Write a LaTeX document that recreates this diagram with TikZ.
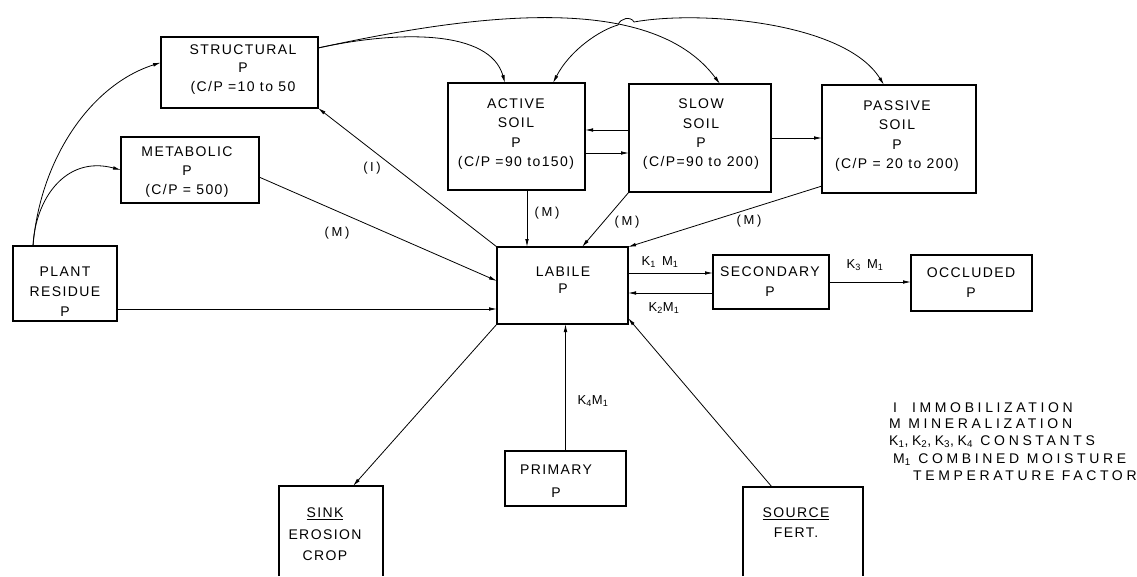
\documentclass[tikz,border=0pt]{standalone}
\usepackage{fontspec}
\setmainfont{Liberation Sans}
\newfontfamily\bxf[LetterSpace=10]{Liberation Sans}
\newfontfamily\lbf[LetterSpace=20]{Liberation Sans}
\newfontfamily\lgf[LetterSpace=26]{Liberation Sans}
\usetikzlibrary{arrows.meta}
\tikzset{
  bx/.style 2 args={draw, line width=1.1pt, inner sep=0pt, outer sep=0pt,
    minimum width=#1pt, minimum height=#2pt},
  obx/.style 2 args={inner sep=0pt, outer sep=0pt,
    minimum width=#1pt, minimum height=#2pt},
  txt/.style={font={\bxf\fontsize{14}{#1}\selectfont}, align=center, inner sep=0pt},
  lbl/.style={font={\lbf\fontsize{13}{15}\selectfont}, inner sep=0pt},
  lgd/.style={font={\lgf\fontsize{14}{17}\selectfont}, inner sep=0pt, anchor=base west},
  arr/.style={-{Latex[length=8pt,width=3.6pt]}, line width=0.8pt},
  dbl/.style={{Latex[length=8pt,width=3.6pt]}-{Latex[length=8pt,width=3.6pt]}, line width=0.8pt},
  openbox/.style={line width=1.1pt}
}
\begin{document}
\begin{tikzpicture}[x=1pt,y=-1pt]
\useasboundingbox[fill=white] (0,0) rectangle (1137,576);

% boxes
\node[bx={157}{71}]  (struct)  at (239.5,72.5) {};
\node[bx={138}{66}]  (metab)   at (190,170) {};
\node[bx={104}{75}]  (plant)   at (65,283.5) {};
\node[bx={137}{107}] (active)  at (516.5,136.5) {};
\node[bx={142}{108}] (slow)    at (700,138) {};
\node[bx={154}{108}] (passive) at (899,139) {};
\node[bx={131}{77}]  (labile)  at (562.5,285.5) {};
\node[bx={116}{54}]  (second)  at (771,282) {};
\node[bx={121}{56}]  (occl)    at (971.5,283) {};
\node[bx={121}{55}]  (primary) at (565.5,478.5) {};
\node[obx={104}{90}] (sink)    at (331,531) {};
\node[obx={120}{89}] (source)  at (803,531.5) {};
\draw[openbox] (sink.south west) -- (sink.north west) -- (sink.north east) -- (sink.south east);
\draw[openbox] (source.south west) -- (source.north west) -- (source.north east) -- (source.south east);

% box texts
\node[txt=18.5] (struct-t)  at (243,69.5) {STRUCTURAL\\P\\(C/P =10 to 50};
\node[txt=19]   (metab-t)   at (187,172) {METABOLIC\\P\\(C/P = 500)};
\node[txt=20]   (plant-t)   at (65,292) {PLANT\\RESIDUE\\P};
\node[txt=19.3] (active-t)  at (516,134) {ACTIVE\\SOIL\\P\\(C/P =90 to150)};
\node[txt=19.3] (slow-t)    at (701,134.5) {SLOW\\SOIL\\P\\(C/P=90 to 200)};
\node[txt=19.3] (passive-t) at (897,136) {PASSIVE\\SOIL\\P\\(C/P = 20 to 200)};
\node[txt=16.5] (labile-t)  at (563,280) {LABILE\\P};
\node[txt=20]   (second-t)  at (770,282) {SECONDARY\\P};
\node[txt=20]   (occl-t)    at (971,283) {OCCLUDED\\P};
\node[txt=23]   (primary-t) at (556,481) {PRIMARY\\P};
\node[txt=21.5] (sink-t)    at (325,534.5) {\underline{SINK}\\EROSION\\CROP};
\node[txt=20]   (source-t)  at (796,523) {\underline{SOURCE}\\FERT.};

% plant residue flows
\draw[arr] ([xshift=-32pt]plant.north) .. controls (35,200) and (65,155) .. (metab.west);
\draw[arr] ([xshift=-32pt]plant.north) .. controls (40,160) and (90,85) .. ([yshift=10pt]struct.west);
\draw[arr] ([yshift=-25.5pt]plant.east) -- ([yshift=-25.5pt]plant.east -| labile.west);

% to / from labile
\draw[arr] ([yshift=-7pt]metab.east) -- ([yshift=4.5pt]labile.west);
\node[lbl] (lab-m1) at (337,233) {(M)};
\draw[arr] (labile.north west) -- (struct.south east);
\node[lbl] (lab-i) at (372,168) {(I)};
\draw[arr] ([xshift=10.5pt]active.south) -- ([xshift=10.5pt]active.south |- labile.north);
\node[lbl] (lab-m2) at (547,213) {(M)};
\draw[arr] (slow.south west) -- ([xshift=19.5pt]labile.north);
\node[lbl] (lab-m3) at (627,222) {(M)};
\draw[arr] ([yshift=7pt]passive.south west) -- (labile.north east);
\node[lbl] (lab-m4) at (749,221) {(M)};

% soil pools
\draw[arr] ([yshift=8pt]slow.west) -- ([yshift=8pt]slow.west -| active.east);
\draw[arr] ([yshift=-16.5pt]active.east) -- ([yshift=-16.5pt]active.east -| slow.west);
\draw[arr] (slow.east) -- (slow.east -| passive.west);

% mineral pools
\draw[arr] ([yshift=12.5pt]labile.east) -- ([yshift=12.5pt]labile.east -| second.west);
\node[lbl] (lab-k1) at (660,262) {K\textsubscript{1} M\textsubscript{1}};
\draw[arr] ([yshift=-11pt]second.west) -- ([yshift=-11pt]second.west -| labile.east);
\node[lbl] (lab-k2) at (664,308) {K\textsubscript{2}M\textsubscript{1}};
\draw[arr] (second.east) -- (second.east -| occl.west);
\node[lbl] (lab-k3) at (865,265) {K\textsubscript{3} M\textsubscript{1}};
\draw[arr] (primary.north) -- (primary.north |- labile.south);
\node[lbl] (lab-k4) at (593,401) {K\textsubscript{4}M\textsubscript{1}};
\draw[arr] (labile.south west) -- ([xshift=22pt]sink.north);
\draw[arr] ([xshift=-31pt]source.north) -- ([yshift=6pt]labile.south east);

% top curves
\draw[arr] ([yshift=24.5pt]struct.east) .. controls (400,30) and (490,30) .. ([xshift=-11.5pt]active.north);
\draw[arr] ([yshift=24.5pt]struct.east) .. controls (470,15) and (650,-10) .. ([xshift=20pt]slow.north);
\draw[dbl] ([xshift=36.5pt]active.north) .. controls (570,50) and (600,30) .. (618,25)
   .. controls (620,18) and (631,16) .. (634,22)
   .. controls (700,10) and (845,22) .. ([xshift=-15pt]passive.north);

% legend
\node[lgd] (leg1) at (893,412) {I\hspace{15pt}IMMOBILIZATION};
\node[lgd] (leg2) at (889,428) {M MINERALIZATION};
\node[lgd] (leg3) at (889,445) {K\textsubscript{1},K\textsubscript{2},K\textsubscript{3},K\textsubscript{4} CONSTANTS};
\node[lgd] (leg4) at (893,463) {M\textsubscript{1} COMBINED MOISTURE};
\node[lgd] (leg5) at (913,480) {TEMPERATURE FACTOR};
\end{tikzpicture}
\end{document}
